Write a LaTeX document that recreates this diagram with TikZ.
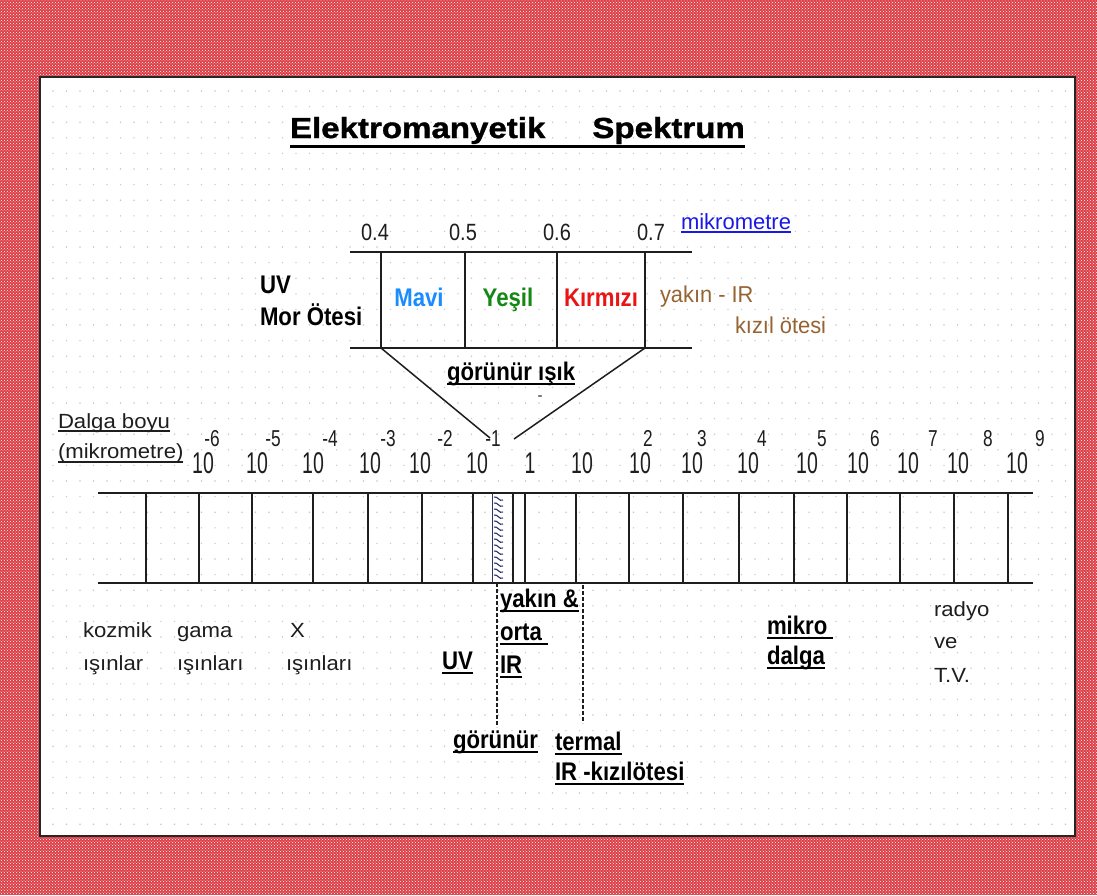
\documentclass[tikz,border=0pt]{standalone}
\usepackage{fontspec}
\usetikzlibrary{patterns}
\setmainfont{Liberation Sans}
\newfontfamily\fA[FakeStretch=1.08]{Liberation Sans}
\newfontfamily\fNum[FakeStretch=0.65]{Liberation Sans}
\newfontfamily\fExp[FakeStretch=0.75]{Liberation Sans}
\newfontfamily\fTick[FakeStretch=0.85]{Liberation Sans}
\newfontfamily\fB[FakeStretch=0.87]{Liberation Sans}
\newfontfamily\fTitle[FakeStretch=1.14,FakeBold=1.2]{Liberation Sans}
\newfontfamily\fBr[FakeStretch=0.95]{Liberation Sans}
\definecolor{bgred}{RGB}{220,62,70}
\definecolor{dotgray}{RGB}{200,200,200}
\definecolor{ink}{RGB}{30,30,30}
\definecolor{mavi}{RGB}{25,140,255}
\definecolor{yesil}{RGB}{20,135,20}
\definecolor{kirmizi}{RGB}{235,20,20}
\definecolor{kahve}{RGB}{150,100,50}
\definecolor{linkblue}{RGB}{25,25,230}
\definecolor{strip}{RGB}{50,50,110}
% underline: node name, thickness, depth below baseline, extra length at right, colour
\newcommand\ulunder[5]{\draw[line width=#2, draw=#5] ([yshift=-#3]#1.base west) -- ([yshift=-#3, xshift=#4]#1.base east);}
\tikzset{
  txtw/.style={inner sep=0pt, outer sep=0pt, anchor=base west, text=ink},
  txtc/.style={inner sep=0pt, outer sep=0pt, anchor=base, text=ink},
  fontA/.style={font=\fA\fontsize{20.5}{24}\selectfont},
  fontNum/.style={font=\fNum\fontsize{30}{34}\selectfont},
  fontExp/.style={font=\fExp\fontsize{23}{26}\selectfont},
  fontTick/.style={font=\fTick\fontsize{23.5}{27}\selectfont},
  fontBold/.style={font=\fB\bfseries\fontsize{25.5}{29}\selectfont},
  fontBrown/.style={font=\fBr\fontsize{23}{27}\selectfont, text=kahve},
  boxline/.style={line width=1.5pt, draw=ink},
  bandline/.style={line width=1.5pt, draw=ink},
  tickline/.style={line width=1.3pt, draw=ink},
  dashline/.style={line width=1.3pt, draw=ink, dash pattern=on 4pt off 2pt},
  hatch/.style={line width=1.1pt, draw=strip},
}
\begin{document}
\begin{tikzpicture}[x=1pt,y=-1pt]
\useasboundingbox (0,0) rectangle (1097,895);
% background
\fill[bgred] (0,0) rectangle (1097,895);
\fill[pattern=crosshatch dots, pattern color=white] (0,0) rectangle (1097,895);
\fill[white] (40,77) rectangle (1075,836);
\foreach \i in {0,...,75} {\foreach \j in {0,...,47} {\fill[dotgray] ({53+13.5*\i},{91+15.6*\j}) circle (0.8);}}
\draw[line width=2pt, draw=black!85] (40,77) rectangle (1075,836);

% title
\node[txtw, font=\fTitle\bfseries\fontsize{29}{33}\selectfont, text=black] (title) at (290,138) {Elektromanyetik\hspace{47pt}Spektrum};
\ulunder{title}{3pt}{8pt}{0pt}{black}

% visible light box
\node[txtc, fontTick] (w4) at (375,240) {0.4};
\node[txtc, fontTick] (w5) at (463,240) {0.5};
\node[txtc, fontTick] (w6) at (557,240) {0.6};
\node[txtc, fontTick] (w7) at (651,240) {0.7};
\node[txtw, font=\fontsize{22}{26}\selectfont, text=linkblue] (mik) at (681,229) {mikrometre};
\ulunder{mik}{1.3pt}{3pt}{0pt}{linkblue}

\coordinate (tl) at (350,252); \coordinate (tr) at (692,252);
\coordinate (bl) at (350,348); \coordinate (br) at (692,348);
\draw[boxline] (tl) -- (tr);
\draw[boxline] (bl) -- (br);
\foreach \x/\n in {381/a,465/b,557/c,645/d} {
  \coordinate (vt\n) at (\x,252); \coordinate (vb\n) at (\x,348);
  \draw[boxline] (vt\n) -- (vb\n);
}
\node[txtw, fontBold, text=black] (uv1) at (260,293) {UV};
\node[txtw, fontBold, text=black] (mor) at (260,325) {Mor Ötesi};
\node[txtc, fontBold, text=mavi] (mavi) at (419,306) {Mavi};
\node[txtc, fontBold, text=yesil] (yesil) at (508,306) {Yeşil};
\node[txtc, fontBold, text=kirmizi] (kirm) at (601,306) {Kırmızı};
\node[txtw, fontBrown] (yir) at (660,302) {yakın - IR};
\node[txtw, fontBrown] (kiz) at (735,333) {kızıl ötesi};
\node[txtw, fontBold, text=black] (gi) at (447,380) {görünür ışık};
\ulunder{gi}{2pt}{3.5pt}{0pt}{black}
\node[txtc, font=\fontsize{15}{18}\selectfont] (dash) at (540,400) {-};

\coordinate (fl) at (490,438); \coordinate (fr) at (514,439);
\draw[boxline] (vba) -- (fl);
\draw[boxline] (vbd) -- (fr);

% axis title
\node[txtw, fontA] (dalga) at (58,428) {Dalga boyu};
\ulunder{dalga}{1.3pt}{3pt}{0pt}{ink}
\node[txtw, fontA] (mikr) at (58,458) {(mikrometre)};
\ulunder{mikr}{1.3pt}{4pt}{0pt}{ink}

% powers of ten
\foreach \c/\e/\ex [count=\k] in {203/212/-6,257/273/-5,313/330/-4,370/388/-3,420/445/-2,477/493/-1,640/648/2,692/702/3,748/762/4,807/822/5,858/875/6,908/933/7,958/988/8,1017/1040/9} {
  \node[txtc, fontNum] (ten\k) at (\c,473) {10};
  \node[txtc, fontExp] (exp\k) at (\e,446) {\ex};
}
\node[txtc, fontNum] (one) at (530,473) {1};
\node[txtc, fontNum] (ten0) at (582,473) {10};

% main band
\coordinate (bandTL) at (98,493); \coordinate (bandTR) at (1033,493);
\coordinate (bandBL) at (98,583); \coordinate (bandBR) at (1033,583);
\fill[white] (492,494) rectangle (504,582);
\foreach \y in {497,503,...,577} {
  \draw[hatch] (494,\y) .. controls (498,\y-1) and (499,\y+5) .. (503,\y+3);
}
\draw[line width=0.8pt, draw=strip] (492,494) -- (492,582);
\draw[bandline] (bandTL) -- (bandTR);
\draw[bandline] (bandBL) -- (bandBR);
\foreach \x in {146,199,252,313,368,422,473,513,525,576,629,683,739,794,847,900,954,1008} {
  \draw[tickline] (\x,493) -- (\x,583);
}

% dashed markers
\coordinate (d1t) at (497,583); \coordinate (d1b) at (497,727);
\coordinate (d2t) at (583,585); \coordinate (d2b) at (583,723);
\draw[dashline] (d1t) -- (d1b);
\draw[dashline] (d2t) -- (d2b);

% labels below the band
\node[txtw, fontA] (koz1) at (83,637) {kozmik};
\node[txtw, fontA] (koz2) at (83,670) {ışınlar};
\node[txtw, fontA] (gam1) at (177,637) {gama};
\node[txtw, fontA] (gam2) at (177,670) {ışınları};
\node[txtw, fontA] (x1) at (290,637) {X};
\node[txtw, fontA] (x2) at (286,670) {ışınları};
\node[txtw, fontBold, text=black] (uv2) at (442,669) {UV};
\ulunder{uv2}{2pt}{4pt}{0pt}{black}
\node[txtw, fontBold, text=black] (yak1) at (500,607) {yakın \&};
\ulunder{yak1}{2pt}{4pt}{0pt}{black}
\node[txtw, fontBold, text=black] (yak2) at (500,640) {orta};
\ulunder{yak2}{2pt}{4pt}{6pt}{black}
\node[txtw, fontBold, text=black] (yak3) at (500,673) {IR};
\ulunder{yak3}{2pt}{4pt}{0pt}{black}
\node[txtw, fontBold, text=black] (gor) at (453,748) {görünür};
\ulunder{gor}{2pt}{4pt}{0pt}{black}
\node[txtw, fontBold, text=black] (ter1) at (555,750) {termal};
\ulunder{ter1}{2pt}{4pt}{0pt}{black}
\node[txtw, fontBold, text=black] (ter2) at (555,780) {IR -kızılötesi};
\ulunder{ter2}{2pt}{4pt}{0pt}{black}
\node[txtw, fontBold, text=black] (mk1) at (767,634) {mikro};
\ulunder{mk1}{2pt}{4pt}{6pt}{black}
\node[txtw, fontBold, text=black] (mk2) at (767,664) {dalga};
\ulunder{mk2}{2pt}{4pt}{0pt}{black}
\node[txtw, fontA] (rad1) at (934,616) {radyo};
\node[txtw, fontA] (rad2) at (934,648) {ve};
\node[txtw, fontA] (rad3) at (934,682) {T.V.};
\end{tikzpicture}
\end{document}
